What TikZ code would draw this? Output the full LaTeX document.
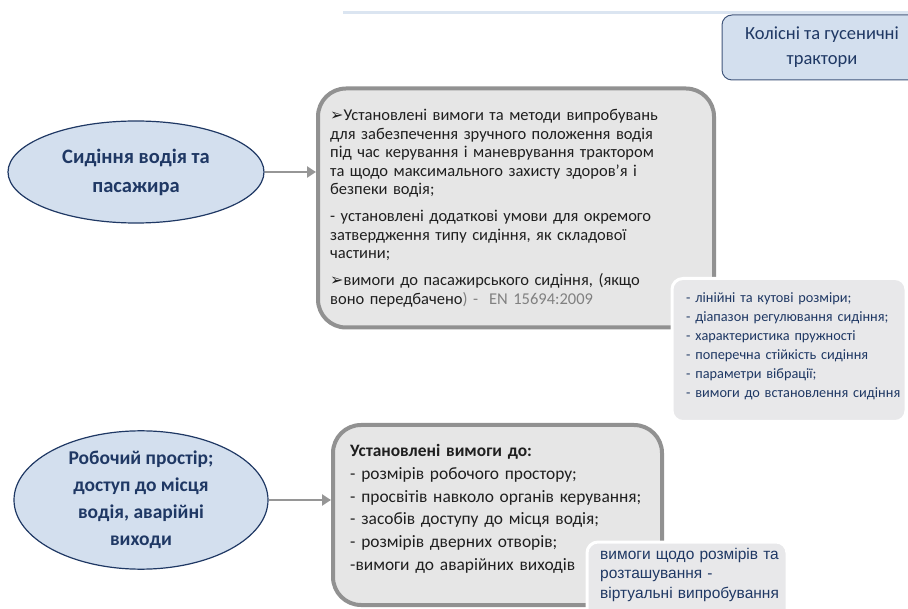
\documentclass[tikz,border=0pt]{standalone}
\usepackage{fontspec}
\setmainfont{Carlito}
\newfontfamily\arialfont{Liberation Sans}
\newfontfamily\symfont{DejaVu Sans}
\usepackage{tikz}
\usetikzlibrary{shapes.geometric,arrows.meta,positioning}
\definecolor{navy}{RGB}{31,56,100}
\definecolor{paleblue}{RGB}{211,223,238}
\definecolor{boxgray}{RGB}{230,230,230}
\definecolor{edgegray}{RGB}{145,145,145}
\definecolor{notegray}{RGB}{232,232,234}
\definecolor{linkgray}{RGB}{150,150,150}
\definecolor{topline}{RGB}{219,229,241}
\newcommand{\Arr}{{\symfont\fontsize{16}{16}\selectfont ➢}}

\begin{document}
\begin{tikzpicture}[x=1pt, y=-1pt,
  topic/.style={ellipse, draw=navy, fill=paleblue, line width=1.2pt, text=navy,
    font=\bfseries\fontsize{20.5}{29}\selectfont, align=center, inner sep=0pt},
  infobox/.style={draw=edgegray, fill=boxgray, line width=4pt, rounded corners=28pt, inner sep=0pt},
  notebox/.style={draw=white, fill=notegray, line width=3pt, rounded corners=11pt, inner sep=0pt},
  body/.style={anchor=north west, inner sep=0pt, align=left, text=black!88},
  link/.style={draw=linkgray, line width=2.5pt, -{Triangle[length=9pt,width=11pt]}}
]

  \useasboundingbox (0,0) rectangle (908,609);

  \draw[topline, line width=3pt] (343,13) -- (908,13);

  \node[draw=navy!85, fill=paleblue, rounded corners=10pt, line width=1pt,
    minimum width=200, minimum height=65, align=center, text=navy,
    font=\fontsize{18.5}{25}\selectfont] (class) at (822,47.5) {Колісні та гусеничні\\трактори};

  % seat
  \node[topic, minimum width=256, minimum height=102] (seat) at (136,172) {Сидіння водія та\\пасажира};
  \node[infobox, minimum width=396, minimum height=239] (seatbox) at (516,208) {};
  \node[body, text width=380, font=\fontsize{16.5}{18.5}\selectfont] (seattext) at (330,109)
    {\Arr Установлені вимоги та методи випробувань\\
     для забезпечення зручного положення водія\\
     під час керування і маневрування трактором\\
     та щодо максимального захисту здоров'я і\\
     безпеки водія;\\[8.5pt]
     - установлені додаткові умови для окремого\\
     затвердження типу сидіння, як складової\\
     частини;\\[8.5pt]
     \Arr вимоги до пасажирського сидіння, (якщо\\
     воно передбачено{\color{gray}) -\ \ EN 15694:2009}};
  \draw[link] (seat.east) -- (seat.east -| seatbox.west);

  \node[notebox, minimum width=234, minimum height=143] (params) at (789,350) {};
  \node[body, text=navy, text width=220, font=\fontsize{14.3}{19}\selectfont] (paramtext) at (686,292)
    {- лінійні та кутові розміри;\\
     - діапазон регулювання сидіння;\\
     - характеристика пружності\\
     - поперечна стійкість сидіння\\
     - параметри вібрації;\\
     - вимоги до встановлення сидіння};

  % workspace
  \node[topic, minimum width=254, minimum height=124, font=\bfseries\fontsize{19.5}{27}\selectfont] (work) at (141,500)
    {Робочий простір;\\доступ до місця\\водія, аварійні\\виходи};
  \node[infobox, minimum width=329, minimum height=180] (workbox) at (497.5,515) {};
  \node[body, text width=310, font=\fontsize{17.4}{22.8}\selectfont] (worktext) at (350,444)
    {\textbf{Установлені вимоги до:}\\
     - розмірів робочого простору;\\
     - просвітів навколо органів керування;\\
     - засобів доступу до місця водія;\\
     - розмірів дверних отворів;\\
     -вимоги до аварійних виходів};
  \draw[link] (work.east) -- (work.east -| workbox.west);

  \node[notebox, minimum width=200, minimum height=80] (sim) at (687,582) {};
  \node[body, text=navy, text width=195, font=\arialfont\fontsize{15.5}{19.5}\selectfont] (simtext) at (600,548)
    {вимоги щодо розмірів та\\
     розташування -\\
     віртуальні випробування};

\end{tikzpicture}
\end{document}
